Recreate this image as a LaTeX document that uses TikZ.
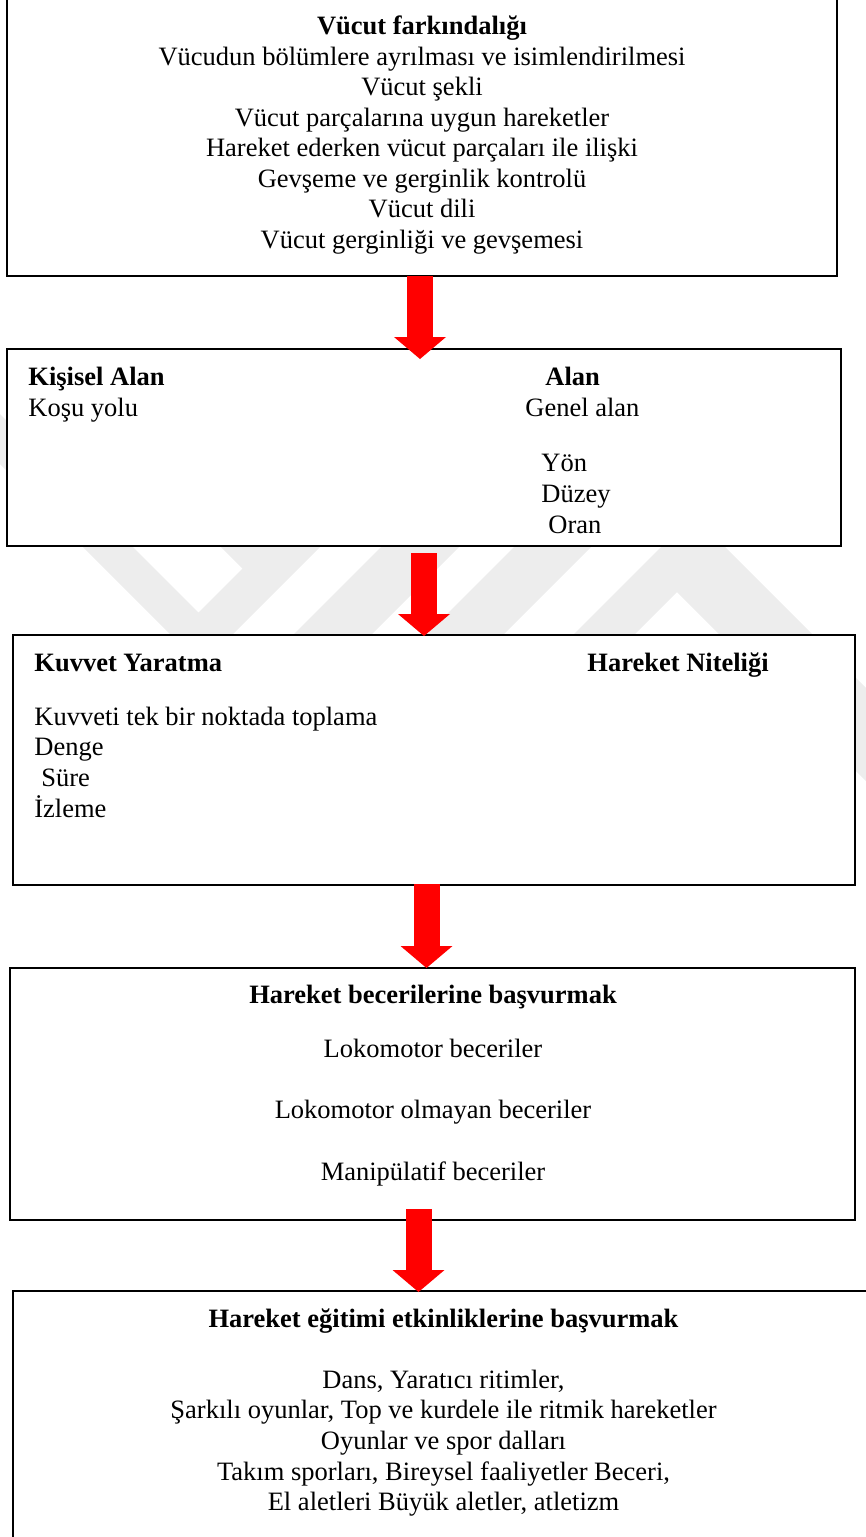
\documentclass[tikz,border=0pt]{standalone}
\usepackage{fontspec}
\setmainfont{Liberation Serif}
\usetikzlibrary{arrows.meta,calc,fit}
\begin{document}
\begin{tikzpicture}[x=0.5pt,y=-0.5pt,
  box/.style={draw=black, line width=1pt, fill=white, inner sep=0pt, outer sep=0pt},
  txt/.style={inner sep=0pt, font=\fontsize{13.25}{15.25}\selectfont},
  hd/.style={font=\fontsize{13.25}{15.25}\selectfont\bfseries},
  lbl/.style={txt, anchor=base west},
  ctr/.style={txt, anchor=base},
  redarrow/.style={draw=red, line width=13pt, -{Triangle[width=26pt,length=11pt,line width=0pt]}},
  wm/.style={fill=black!7, draw=none}]
\useasboundingbox (0,0) rectangle (866,1537);
\clip (0,0) rectangle (866,1537);

% faint watermark
\fill[wm] (-64,400) -- (201.5,665.5) -- (327,540) -- (214,540) -- (242.5,568.5) -- (198.5,612.5) -- (-14,400) -- cycle;
\fill[wm] (388,540) -- (466,540) -- (366,640) -- (288,640) -- cycle;
\fill[wm] (521,540) -- (598,540) -- (498,640) -- (421,640) -- cycle;
\fill[wm] (668,540) -- (718,540) -- (968,790) -- (875,790) -- (677,592) -- (629,640) -- (568,640) -- cycle;

% boxes
\node[box, fit={(7,-10) (837,276)}] (b1) {};
\node[box, fit={(7,349) (841,546)}] (b2) {};
\node[box, fit={(13,635) (855,885)}] (b3) {};
\node[box, fit={(10,968) (855,1220)}] (b4) {};
\node[box, fit={(13,1291) (890,1560)}] (b5) {};

% box 1 texts
\node[ctr, hd] (t11) at (422,34.5) {Vücut farkındalığı};
\node[ctr] (t12) at (422,65) {Vücudun bölümlere ayrılması ve isimlendirilmesi};
\node[ctr] (t13) at (422,95.5) {Vücut şekli};
\node[ctr] (t14) at (422,126) {Vücut parçalarına uygun hareketler};
\node[ctr] (t15) at (422,156.5) {Hareket ederken vücut parçaları ile ilişki};
\node[ctr] (t16) at (422,187) {Gevşeme ve gerginlik kontrolü};
\node[ctr] (t17) at (422,217.5) {Vücut dili};
\node[ctr] (t18) at (422,248) {Vücut gerginliği ve gevşemesi};

% box 2 texts
\node[lbl, hd] (t21) at (28,385) {Kişisel Alan};
\node[lbl] (t22) at (28,416.5) {Koşu yolu};
\node[lbl, hd] (t23) at (545,385) {Alan};
\node[lbl] (t24) at (525,416.5) {Genel alan};
\node[lbl] (t25) at (541,471) {Yön};
\node[lbl] (t26) at (541,502) {Düzey};
\node[lbl] (t27) at (548,533) {Oran};

% box 3 texts
\node[lbl, hd] (t31) at (34,671) {Kuvvet Yaratma};
\node[lbl, hd] (t32) at (587,671) {Hareket Niteliği};
\node[lbl] (t33) at (34,725) {Kuvveti tek bir noktada toplama};
\node[lbl] (t34) at (34,755.5) {Denge};
\node[lbl] (t35) at (41,786) {Süre};
\node[lbl] (t36) at (34,817) {İzleme};

% box 4 texts
\node[ctr, hd] (t41) at (433,1003) {Hareket becerilerine başvurmak};
\node[ctr] (t42) at (433,1057) {Lokomotor beceriler};
\node[ctr] (t43) at (433,1118) {Lokomotor olmayan beceriler};
\node[ctr] (t44) at (433,1180) {Manipülatif beceriler};

% box 5 texts
\node[ctr, hd] (t51) at (443.5,1327) {Hareket eğitimi etkinliklerine başvurmak};
\node[ctr] (t52) at (443.5,1388) {Dans, Yaratıcı ritimler,};
\node[ctr] (t53) at (443.5,1418.5) {Şarkılı oyunlar, Top ve kurdele ile ritmik hareketler};
\node[ctr] (t54) at (443.5,1449) {Oyunlar ve spor dalları};
\node[ctr] (t55) at (443.5,1480) {Takım sporları, Bireysel faaliyetler Beceri,};
\node[ctr] (t56) at (443.5,1510.5) {El aletleri Büyük aletler, atletizm};

% arrows
\draw[redarrow] ($(b1.south)+(-2,0)$) -- ($(b2.north)+(-4,10)$);
\draw[redarrow] ($(b2.south)+(0,7)$) -- ($(b3.north)+(-10,1)$);
\draw[redarrow] ($(b3.south)+(-7.5,-1)$) -- ($(b4.north)+(-6,0)$);
\draw[redarrow] ($(b4.south)+(-14,-11)$) -- ($(b5.north)+(-33,1)$);
\end{tikzpicture}
\end{document}
